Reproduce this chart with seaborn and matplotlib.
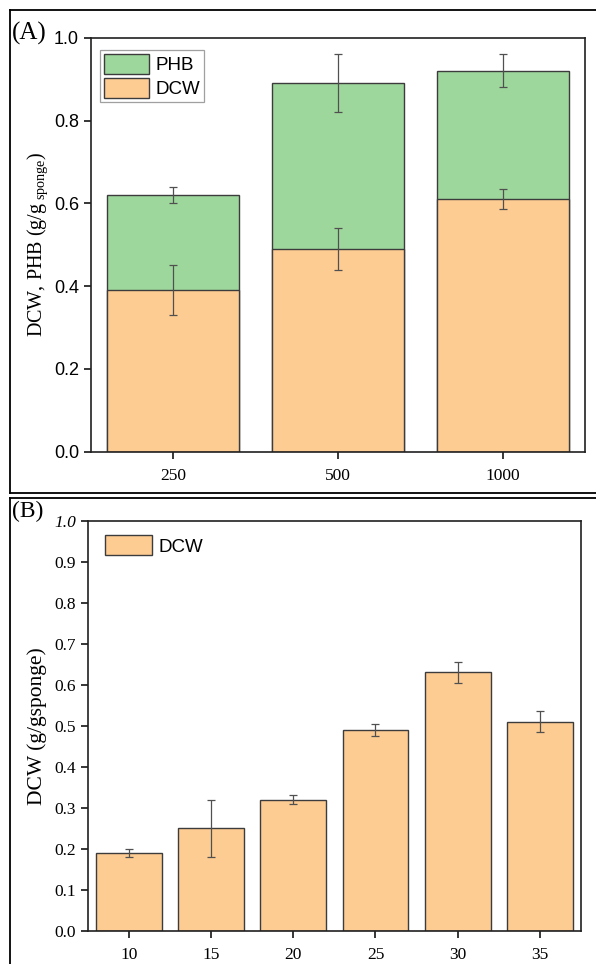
import matplotlib
matplotlib.use("Agg")
import matplotlib.pyplot as plt
import seaborn as sns
import pandas as pd
from matplotlib.lines import Line2D

# ---------------- data ----------------
a_categories = ["250", "500", "1000"]
a_dcw = [0.39, 0.49, 0.61]
a_phb = [0.23, 0.40, 0.31]
a_dcw_err = [0.06, 0.05, 0.024]
a_total_err = [0.02, 0.07, 0.04]
a_yticks = [0.0, 0.2, 0.4, 0.6, 0.8, 1.0]

b_categories = ["10", "15", "20", "25", "30", "35"]
b_dcw = [0.19, 0.25, 0.32, 0.49, 0.63, 0.51]
b_dcw_err = [0.01, 0.07, 0.012, 0.015, 0.025, 0.025]
b_yticks = [0.0, 0.1, 0.2, 0.3, 0.4, 0.5, 0.6, 0.7, 0.8, 0.9, 1.0]

# ---------------- style ----------------
SERIF = "Liberation Serif"
SANS = "Liberation Sans"
plt.rcParams["font.family"] = [SERIF, "DejaVu Serif"]
plt.rcParams["mathtext.fontset"] = "custom"
plt.rcParams["mathtext.rm"] = SERIF
plt.rcParams["mathtext.it"] = SERIF + ":italic"
orange = "#FDCC92"
green = "#9ED79C"
edge = "#3c3c3c"
errc = "#505050"

W, H = 596, 964
fig = plt.figure(figsize=(W / 100, H / 100), dpi=100)


def axes_px(left, top, right, bottom):
    return fig.add_axes([left / W, 1 - bottom / H, (right - left) / W, (bottom - top) / H])


axA = axes_px(90.7, 37.7, 585.0, 451.7)
axB = axes_px(87.7, 520.7, 581.0, 930.7)

# ---------------- panel A ----------------
dfA = pd.DataFrame({"conc": a_categories, "DCW": a_dcw, "PHB": a_phb})
dfA["total"] = dfA["DCW"] + dfA["PHB"]
sns.barplot(data=dfA, x="conc", y="total", order=a_categories, color=green,
            saturation=1, edgecolor=edge, linewidth=1.0, width=0.8,
            errorbar=None, label="PHB", ax=axA)
sns.barplot(data=dfA, x="conc", y="DCW", order=a_categories, color=orange,
            saturation=1, edgecolor=edge, linewidth=1.0, width=0.8,
            errorbar=None, label="DCW", ax=axA)
xa = list(range(len(a_categories)))
axA.errorbar(xa, dfA["total"], yerr=a_total_err, fmt="none", ecolor=errc,
             elinewidth=0.9, capsize=3, capthick=0.9, zorder=5)
axA.errorbar(xa, dfA["DCW"], yerr=a_dcw_err, fmt="none", ecolor=errc,
             elinewidth=0.9, capsize=3, capthick=0.9, zorder=5)
axA.set_xlim(-0.5, 2.5)
axA.set_ylim(0, 1.0)
axA.set_yticks(a_yticks, [f"{v:.1f}" for v in a_yticks])
axA.set_xlabel("")
axA.set_ylabel(r"DCW, PHB (g/g$_{\ \mathrm{sponge}}$)", fontsize=14.5,
               fontfamily=SERIF, va="center")
axA.yaxis.set_label_coords((38 - 90.7) / 494.3, 0.5)
axA.tick_params(axis="y", labelsize=13, labelfontfamily=SANS, direction="out",
                length=5, width=1.1, colors="black")
axA.tick_params(axis="x", labelsize=12.5, labelfontfamily=SERIF, direction="out",
                length=5, width=1.1, pad=7)
for s in axA.spines.values():
    s.set_linewidth(1.2)
    s.set_color("#202020")
hA, lA = axA.get_legend_handles_labels()
legA = axA.legend(hA, lA, loc="upper left", bbox_to_anchor=(0.019, 0.97),
                  borderaxespad=0, fancybox=False, frameon=True, edgecolor="#888888",
                  prop={"family": SANS, "size": 13.5}, handlelength=2.4,
                  handleheight=1.25, labelspacing=0.2, handletextpad=0.35,
                  borderpad=0.2)
legA.get_frame().set_linewidth(0.9)

# ---------------- panel B ----------------
dfB = pd.DataFrame({"temp": b_categories, "DCW": b_dcw})
sns.barplot(data=dfB, x="temp", y="DCW", order=b_categories, color=orange,
            saturation=1, edgecolor=edge, linewidth=1.0, width=0.8,
            errorbar=None, label="DCW", ax=axB)
xb = list(range(len(b_categories)))
axB.errorbar(xb, dfB["DCW"], yerr=b_dcw_err, fmt="none", ecolor=errc,
             elinewidth=0.9, capsize=3, capthick=0.9, zorder=5)
axB.set_xlim(-0.5, 5.5)
axB.set_ylim(0, 1.0)
axB.set_yticks(b_yticks, [f"{v:.1f}" for v in b_yticks])
axB.get_yticklabels()[-1].set_style("italic")
axB.set_xlabel("")
axB.set_ylabel("DCW (g/gsponge)", fontsize=15.5, fontfamily=SERIF, va="center")
axB.yaxis.set_label_coords((37 - 87.7) / 493.3, 0.5)
axB.tick_params(axis="both", labelsize=12.5, labelfontfamily=SERIF, direction="out",
                length=5, width=1.1)
axB.tick_params(axis="x", pad=7)
for s in axB.spines.values():
    s.set_linewidth(1.2)
    s.set_color("#202020")
hB, lB = axB.get_legend_handles_labels()
axB.legend(hB, lB, loc="upper left", bbox_to_anchor=(0.035, 0.965),
           borderaxespad=0, frameon=False, prop={"family": SANS, "size": 13.5},
           handlelength=2.5, handleheight=1.3, handletextpad=0.35, borderpad=0)

# ---------------- panel frames and letters ----------------
def fline(x0, y0, x1, y1, lw=1.3):
    fig.add_artist(Line2D([x0 / W, x1 / W], [1 - y0 / H, 1 - y1 / H],
                          transform=fig.transFigure, color="black", lw=lw))

fline(10, 10, 596, 10)
fline(10, 10, 10, 493)
fline(10, 493, 596, 493)
fline(10, 498, 596, 498)
fline(10, 498, 10, 964)

fig.text(12 / W, 1 - 33 / H, "(A)", fontsize=18, fontfamily=SERIF,
         ha="left", va="center")
fig.text(12 / W, 1 - 511 / H, "(B)", fontsize=17, fontfamily=SERIF,
         ha="left", va="center")

fig.savefig("out.png", dpi=100)
